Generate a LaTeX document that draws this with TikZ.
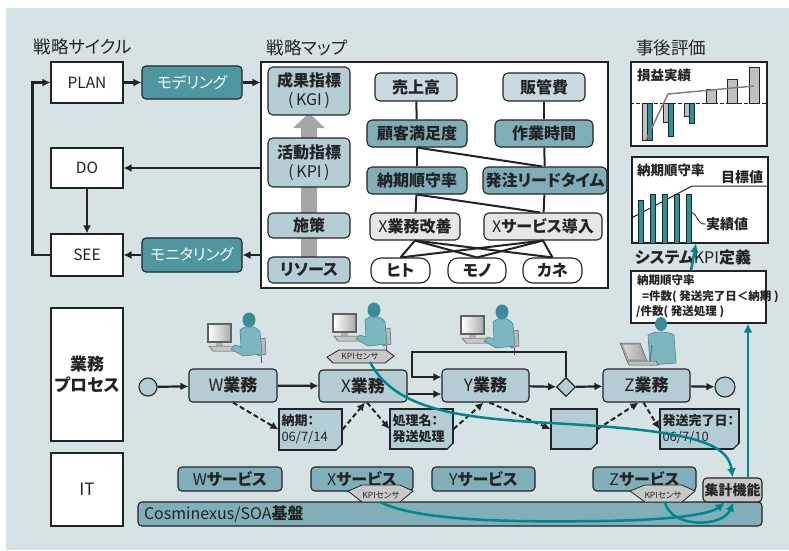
\documentclass[tikz,border=0pt]{standalone}
\usepackage{fontspec}
\setmainfont{Noto Sans CJK JP}[RawFeature=+palt]
\usetikzlibrary{arrows.meta,shapes.geometric}

\definecolor{bgc}{RGB}{214,226,228}
\definecolor{lc}{RGB}{35,35,35}
\definecolor{tealbox}{RGB}{78,150,160}
\definecolor{kgic}{RGB}{181,205,213}
\definecolor{lightc}{RGB}{200,218,224}
\definecolor{midc}{RGB}{127,174,185}
\definecolor{greyc}{RGB}{230,230,230}
\definecolor{procc}{RGB}{180,205,213}
\definecolor{svcc}{RGB}{128,175,186}
\definecolor{sensc}{RGB}{200,200,200}
\definecolor{tline}{RGB}{0,134,143}
\definecolor{garrow}{RGB}{166,166,166}
\definecolor{barg}{RGB}{192,192,192}
\definecolor{bart}{RGB}{46,145,153}
\definecolor{phair}{RGB}{60,140,150}
\definecolor{pbody}{RGB}{125,182,190}

% fold at the lower right corner of a document node
\newcommand\docfold[1]{%
  \fill[bgc] ([xshift=-7pt]#1.south east) -- ([xshift=1pt,yshift=-1pt]#1.south east) -- ([yshift=7pt]#1.south east) -- cycle;
  \filldraw[fill=white, draw=lc, line width=.6pt] ([xshift=-7pt]#1.south east) -- ([xshift=-2pt,yshift=5pt]#1.south east) -- ([yshift=7pt]#1.south east) -- cycle;
  \draw[lc, line width=1.1pt] ([xshift=-7pt]#1.south east) -- ([yshift=7pt]#1.south east);}

\tikzset{
  frame/.style={draw=lc, line width=1.1pt, inner sep=0pt, align=center, text=lc},
  wbox/.style={frame, fill=white, font=\fontsize{15.5}{18}\selectfont},
  tbox/.style={frame, rounded corners=4pt, fill=tealbox, text=white, font=\fontsize{15.5}{18}\selectfont},
  mbox/.style={frame, rounded corners=5pt, font=\bfseries\fontsize{16}{19}\selectfont, minimum height=27},
  pill/.style={mbox, fill=white, rounded corners=10pt, minimum height=25},
  proc/.style={frame, rounded corners=4pt, fill=procc, font=\fontsize{17}{19}\selectfont, minimum height=33},
  svc/.style={frame, rounded corners=4pt, fill=svcc, font=\fontsize{16}{18}\selectfont, minimum height=24},
  docu/.style={frame, fill=procc, minimum height=40, text width=58pt, align=left, font=\fontsize{13}{16}\selectfont},
  ttl/.style={text=lc, font=\fontsize{17.5}{20}\selectfont, inner sep=0pt},
  blk/.style={draw=lc, line width=2.2pt, -{Latex[length=8pt,width=8pt]}},
  dsh/.style={draw=lc, line width=2pt, dash pattern=on 5pt off 3pt, -{Latex[length=8pt,width=8pt]}},
  tarr/.style={draw=tline, line width=2.5pt, -{Latex[length=9pt,width=9pt]}},
  mline/.style={draw=lc, line width=2pt},
  sensor/.style={fill=sensc, draw=lc, line width=.8pt},
  senstext/.style={text=lc, font=\fontsize{8.5}{9}\selectfont, inner sep=0pt},
  charttext/.style={text=lc, font=\bfseries\fontsize{13.5}{15}\selectfont, inner sep=0pt},
  deftext/.style={text=lc, font=\bfseries\fontsize{11.5}{13}\selectfont, anchor=west, inner sep=0pt},
  pics/deskworker/.style={code={
    \fill[gray!75!black] (0,0) rectangle (25,20);
    \shade[left color=white, right color=gray!65] (2,2) rectangle (23,17);
    \fill[gray!60] (9,20) rectangle (16,23);
    \filldraw[fill=gray!45, draw=gray!70!black, line width=.5pt] (2,23) -- (31,23) -- (35,28) -- (6,28) -- cycle;
    \filldraw[fill=gray!55, draw=gray!70!black, line width=.5pt] (50,17) -- (58,15) -- (59,31) -- (51,33) -- cycle;
    \draw[gray!70!black, line width=1pt] (54,33) -- (54,40);
    \filldraw[fill=pbody, draw=phair, line width=.6pt] (33,7) .. controls (38,2) and (49,2) .. (53,9) -- (55,31) -- (36,33) -- (24,26) -- (28,22) -- (34,24) -- cycle;
    \fill[phair] (42,-3) ellipse (6.5 and 7.5);
  }},
  pics/laptopworker/.style={code={
    \filldraw[fill=pbody, draw=phair, line width=.6pt] (28,-8) .. controls (34,-12) and (48,-12) .. (54,-8) -- (56,20) -- (30,22) -- cycle;
    \fill[phair] (41,-19) ellipse (6 and 7);
    \filldraw[fill=gray!70, draw=gray!70!black, line width=.5pt] (0,0) -- (20,0) -- (27,18) -- (7,18) -- cycle;
    \shade[left color=gray!30, right color=gray!70] (3,2) -- (18,2) -- (24,16) -- (9,16) -- cycle;
    \filldraw[fill=gray!50, draw=gray!70!black, line width=.5pt] (7,18) -- (36,18) -- (38,22) -- (9,22) -- cycle;
    \draw[phair, line width=1.2pt] (32,2) -- (30,18);
  }}
}

\begin{document}
\begin{tikzpicture}[x=1pt, y=-1pt]
\useasboundingbox (0,0) rectangle (789,550);
\fill[bgc] (6,8) rectangle (789,550);

% ---------------- strategy cycle ----------------
\node[ttl] (cycT) at (83,47) {戦略サイクル};
\node[wbox, minimum width=72, minimum height=41] (plan) at (87,82.5) {PLAN};
\node[wbox, minimum width=72, minimum height=40] (do) at (87,168) {DO};
\node[wbox, minimum width=72, minimum height=42] (see) at (87,255) {SEE};
\node[tbox, minimum width=100, minimum height=33] (model) at (192,82.5) {モデリング};
\node[tbox, minimum width=100, minimum height=34] (monit) at (192,255) {モニタリング};

% ---------------- strategy map ----------------
\node[ttl] (mapT) at (307,48) {戦略マップ};
\node[frame, fill=white, minimum width=347, minimum height=226] (map) at (434.5,175) {};

\draw[blk] (plan) -- (model);
\draw[blk] (model.east) -- (map.west |- model.east);
\draw[blk] (map.west |- do.east) -- (do.east);
\draw[blk] (do) -- (see);
\draw[blk] (map.west |- monit.east) -- (monit.east);
\draw[blk] (monit) -- (see);
\draw[blk] (see.west) -- ++(-18,0) |- (plan.west);

% grey upward arrow behind the indicator column
\fill[garrow] (301,258) -- (301,128) -- (293,128) -- (309,113) -- (325,128) -- (317,128) -- (317,258) -- cycle;

\node[mbox, fill=kgic, minimum width=82, minimum height=48] (kgi) at (309,91) {成果指標\\\mdseries (\,KGI\,)};
\node[mbox, fill=kgic, minimum width=82, minimum height=49] (kpi) at (309,162.5) {活動指標\\\mdseries (\,KPI\,)};
\node[mbox, fill=kgic, minimum width=82, minimum height=25] (measure) at (309,225.5) {施策};
\node[mbox, fill=kgic, minimum width=82, minimum height=26] (resrc) at (309,270) {リソース};

\node[mbox, fill=lightc, minimum width=82, minimum height=28] (uriage) at (416,87) {売上高};
\node[mbox, fill=lightc, minimum width=82, minimum height=28] (hankan) at (544,87) {販管費};
\node[mbox, fill=midc, minimum width=100] (kokyaku) at (417,133.5) {顧客満足度};
\node[mbox, fill=midc, minimum width=98] (sagyo) at (544,133.5) {作業時間};
\node[mbox, fill=midc, minimum width=100] (noki) at (417,180.5) {納期順守率};
\node[mbox, fill=midc, minimum width=124] (hatchu) at (545,180.5) {発注リードタイム};
\node[mbox, fill=greyc, minimum width=90] (xkaizen) at (415,226.5) {\mdseries X\bfseries 業務改善};
\node[mbox, fill=greyc, minimum width=118] (xintro) at (543,226.5) {\mdseries X\bfseries サービス導入};
\node[pill, minimum width=59] (hito) at (400.5,270.5) {ヒト};
\node[pill, minimum width=58] (mono) at (477,270.5) {モノ};
\node[pill, minimum width=59] (kane) at (552.5,270.5) {カネ};

\draw[mline] (uriage) -- (kokyaku);
\draw[mline] (hankan) -- (sagyo);
\draw[mline] (kokyaku) -- (noki);
\draw[mline] (sagyo) -- (hatchu);
\draw[mline] (kokyaku.south) -- ([xshift=-3pt]hatchu.north);
\draw[mline] (noki) -- (xkaizen);
\draw[mline] (hatchu) -- (xintro);
\draw[mline] (noki.south) -- ([xshift=-3pt]xintro.north);
\foreach \t in {hito,mono,kane}{
  \draw[mline] (xkaizen.south) -- (\t.north);
  \draw[mline] (xintro.south) -- (\t.north);
}

% ---------------- evaluation ----------------
\node[ttl] (evalT) at (671,48) {事後評価};
\node[frame, fill=white, minimum width=136, minimum height=84] (chartA) at (699,104) {};
\node[charttext, anchor=west] (chartAt) at (637,75) {損益実績};
\draw[lc, line width=.9pt, dash pattern=on 4pt off 2pt] (chartA.west |- 0,103) -- (chartA.east |- 0,103);
\foreach \a/\b in {642/140,663/122,684/116}{
  \filldraw[fill=barg, draw=lc, line width=.7pt] (\a,103) rectangle (\a+5,\b);
}
\foreach \a/\b in {647/140,668/136,689/123}{
  \filldraw[fill=bart, draw=lc, line width=.7pt] (\a,103) rectangle (\a+5,\b);
}
\foreach \a/\b in {706/89,727/79,749/67}{
  \filldraw[fill=barg, draw=lc, line width=.7pt] (\a,\b) rectangle (\a+10,103);
}
\draw[gray, line width=1.5pt] (646,140) -- (668,94) -- (754,86);

\node[frame, fill=white, minimum width=136, minimum height=86] (chartB) at (700,200) {};
\node[charttext, anchor=west] (chartBt) at (637,170) {納期順守率};
\node[charttext, font=\bfseries\fontsize{14}{15}\selectfont] (goal) at (742,177) {目標値};
\draw[lc, line width=1pt] (chartB.west |- 0,218) -- (692,186) -- (chartB.east |- 0,186);
\foreach \a/\b in {638/200,650/194,662/194,674/194,686/194}{
  \filldraw[fill=bart, draw=lc, line width=.6pt] (\a,\b) rectangle (\a+5,243);
}
\node[charttext, font=\bfseries\fontsize{14}{15}\selectfont] (actual) at (727,224) {実績値};
\draw[lc, line width=.8pt] (691,212) .. controls (698,213) and (696,225) .. (actual.west);

\node[text=lc, font=\fontsize{16}{18}\selectfont, inner sep=0pt] (kpiT) at (693,257) {\bfseries システム\mdseries KPI\bfseries 定義};
\node[frame, fill=white, minimum width=135, minimum height=52] (kpidef) at (698.5,297) {};
\node[deftext] (kd1) at (637,280) {納期順守率};
\node[deftext] (kd2) at (642,297) {=件数( 発送完了日＜納期 )};
\node[deftext] (kd3) at (636,312) {/件数( 発送処理 )};
\draw[tarr] ([xshift=-7.5pt]kpidef.north) -- ([xshift=-4pt]chartB.south);

% ---------------- business process ----------------
\node[wbox, minimum width=72, minimum height=133, font=\bfseries\fontsize{17}{21}\selectfont] (bproc) at (87,374.5) {業務\\プロセス};
\node[wbox, minimum width=72, minimum height=73, font=\fontsize{17}{19}\selectfont] (itbox) at (87,489.5) {IT};

\pic at (207,323) {deskworker};
\pic at (332,313) {deskworker};
\pic at (460,315) {deskworker};
\pic at (620,343) {laptopworker};

\node[frame, circle, fill=procc, minimum size=18] (start) at (148,387) {};
\node[proc, minimum width=88] (wjob) at (233,385.5) {W\bfseries 業務};
\node[proc, minimum width=88, minimum height=32] (xjob) at (363,386) {X\bfseries 業務};
\node[proc, minimum width=87] (yjob) at (485.5,385.5) {Y\bfseries 業務};
\node[frame, diamond, fill=procc, minimum size=19] (gate) at (566,387) {};
\node[proc, minimum width=87] (zjob) at (646.5,385.5) {Z\bfseries 業務};
\node[frame, circle, fill=procc, minimum size=20] (stop) at (725,387) {};

\filldraw[sensor] (327,357) -- (339,350) -- (386,350) -- (394,356) -- (385,363) -- (333,363) -- cycle;
\node[senstext] (xjs) at (360,356.5) {KPIセンサ};

\draw[blk] (start) -- (wjob);
\draw[blk] (wjob) -- (xjob);
\draw[blk] (xjob.east |- 0,394) -- (yjob.west |- 0,394);
\draw[blk] (yjob) -- (gate);
\draw[blk] (gate) -- (zjob);
\draw[blk] (zjob) -- (stop);
\draw[blk] (gate.north) -- (566,352) -- (412,352) -- (412,377) -- (yjob.west |- 0,377);

\node[docu, minimum width=63, minimum height=41] (d1) at (310.5,429.5) {\textbf{納期：}\\06/7/14};
\node[docu, minimum width=63] (d2) at (421.5,429) {\textbf{処理名：}\\\textbf{発送処理}};
\node[frame, fill=procc, minimum width=46, minimum height=40] (d3) at (574,429) {};
\node[docu, minimum width=79, text width=74pt] (d4) at (699.5,429) {\textbf{発送完了日：}\\06/7/10};
\docfold{d1}\docfold{d2}\docfold{d3}\docfold{d4}

\draw[dsh] (wjob.south) -- (d1.west);
\draw[dsh] (d1.east) -- ([xshift=2pt]xjob.south);
\draw[dsh] ([xshift=4pt]xjob.south) -- (d2.west);
\draw[dsh] (d2.east) -- ([xshift=-2pt]yjob.south);
\draw[dsh] ([xshift=4pt]yjob.south) -- (d3.west);
\draw[dsh] (d3.east) -- ([xshift=-8pt]zjob.south);
\draw[dsh] ([xshift=-3pt]zjob.south) -- (d4.west);

% ---------------- IT layer ----------------
\node[svc, minimum width=624, minimum height=24, text width=612pt, align=left] (base) at (450,514) {Cosminexus/SOA\textbf{基盤}};
\node[svc, minimum width=104] (wsvc) at (230,479) {W\bfseries サービス};
\node[svc, minimum width=102] (xsvc) at (362,479) {X\bfseries サービス};
\node[svc, minimum width=103] (ysvc) at (483.5,479) {Y\bfseries サービス};
\node[svc, minimum width=103] (zsvc) at (644.5,479) {Z\bfseries サービス};
\node[frame, rounded corners=4pt, fill=sensc, minimum width=59, minimum height=24, font=\bfseries\fontsize{14}{15}\selectfont] (agg) at (732.5,490) {集計機能};

\filldraw[sensor] (348,491) -- (362,485) -- (400,485) -- (413,491) -- (400,502) -- (362,502) -- cycle;
\node[senstext] (xss) at (381,495) {KPIセンサ};
\filldraw[sensor] (630,491) -- (645,485) -- (682,485) -- (695,491) -- (682,502) -- (645,502) -- cycle;
\node[senstext] (zss) at (663,495) {KPIセンサ};

\coordinate (c1) at (370,362);
\coordinate (c2) at (380,502);
\coordinate (c3) at (665,502);
\coordinate (c4) at (550,423);
\coordinate (c5) at (600,521);
\draw[tarr] (c1) .. controls (395,410) and (460,418) .. (c4) .. controls (680,430) and (728,440) .. (agg.north);
\draw[tarr] (c2) .. controls (420,522) and (520,522) .. (c5) .. controls (680,520) and (712,513) .. ([xshift=-8pt]agg.south);
\draw[tarr] (c3) .. controls (670,528) and (722,528) .. ([xshift=1pt]agg.south);
\draw[tarr] ([xshift=15.5pt]agg.north) -- ([xshift=49.5pt]kpidef.south);
\end{tikzpicture}
\end{document}
